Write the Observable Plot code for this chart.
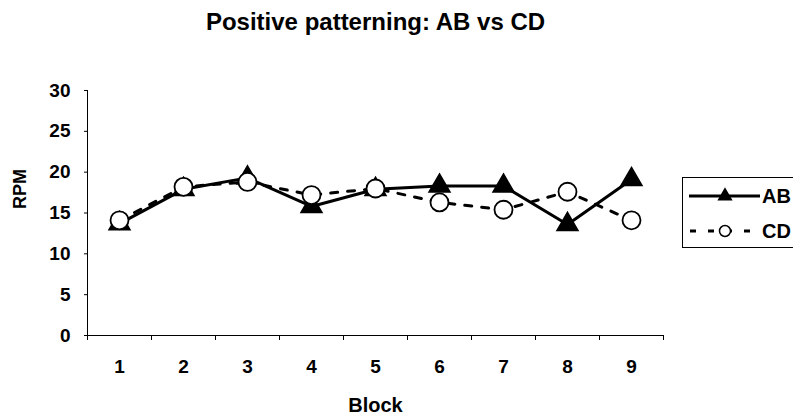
<!DOCTYPE html>
<html><head><meta charset="utf-8">
<script src="https://cdn.jsdelivr.net/npm/d3@7"></script>
<script src="https://cdn.jsdelivr.net/npm/@observablehq/plot@0.6"></script>
<style>
body{margin:0;background:#fff;font-family:Arial,"Liberation Sans",sans-serif;}
#wrap{position:relative;width:793px;height:418px;overflow:hidden;}
#legend{position:absolute;left:682px;top:177px;}
</style></head><body>
<div id="wrap"><div id="chart"></div>
<svg id="legend" width="120" height="71"></svg>
</div>
<script>
const blocks = [1,2,3,4,5,6,7,8,9];
const abValues = [13.7, 17.9, 19.3, 15.8, 17.9, 18.3, 18.3, 13.6, 19.1];
const cdValues = [14.1, 18.2, 18.8, 17.2, 18.0, 16.3, 15.4, 17.6, 14.1];
const seriesNames = ["AB", "CD"];
const yTicks = [0,5,10,15,20,25,30];
const title = "Positive patterning: AB vs CD";
const xLabel = "Block";
const yLabel = "RPM";

const ab = blocks.map((b,i)=>({block:b, value:abValues[i]}));
const cd = blocks.map((b,i)=>({block:b, value:cdValues[i]}));
const boundaries = d3.range(0.5, blocks.length + 0.51, 1);

const font = "Arial, 'Liberation Sans', sans-serif";
const plot = Plot.plot({
  width: 793, height: 418,
  marginTop: 90, marginBottom: 83, marginLeft: 87, marginRight: 130,
  style: {fontFamily: font, color: "#000", background: "#fff"},
  x: {type: "linear", domain: [0.5, 9.5]},
  y: {domain: [0, 30]},
  marks: [
    Plot.axisY({ticks: yTicks, tickSize: 3, tickPadding: 14, fontSize: 19, fontWeight: "bold", label: null}),
    Plot.axisX({ticks: blocks, tickSize: 0, tickPadding: 24, fontSize: 19, fontWeight: "bold", label: null, tickFormat: d => String(d)}),
    Plot.axisX({ticks: boundaries, tickSize: 5, tickFormat: () => "", label: null}),
    Plot.ruleX([0.5], {stroke: "#000", strokeWidth: 1}),
    Plot.ruleY([0], {stroke: "#000", strokeWidth: 1.2}),
    Plot.lineY(ab, {x: "block", y: "value", stroke: "#000", strokeWidth: 3}),
    Plot.dot(ab, {x: "block", y: "value", symbol: "triangle", r: 7.8, fill: "#000", stroke: "#000"}),
    Plot.lineY(cd, {x: "block", y: "value", stroke: "#000", strokeWidth: 3, strokeDasharray: "7,10"}),
    Plot.dot(cd, {x: "block", y: "value", symbol: "circle", r: 9, fill: "#fff", stroke: "#000", strokeWidth: 1.8}),
    Plot.text([title], {frameAnchor: "top", lineAnchor: "middle", dy: -68, fontSize: 24, fontWeight: "bold", text: d => d}),
    Plot.text([xLabel], {frameAnchor: "bottom", lineAnchor: "middle", dy: 70, fontSize: 20, fontWeight: "bold", text: d => d}),
    Plot.text([yLabel], {frameAnchor: "left", dx: -67, dy: -4, rotate: -90, fontSize: 18, fontWeight: "bold", text: d => d})
  ]
});
document.getElementById("chart").appendChild(plot);

// legend
const lg = d3.select("#legend");
lg.append("rect").attr("x",0.5).attr("y",0.5).attr("width",130).attr("height",70).attr("fill","#fff").attr("stroke","#000");
const rows = [{name: seriesNames[0], y: 19}, {name: seriesNames[1], y: 54}];
lg.append("line").attr("x1",7).attr("x2",78).attr("y1",rows[0].y).attr("y2",rows[0].y).attr("stroke","#000").attr("stroke-width",3);
lg.append("path").attr("d", d3.symbol(d3.symbolTriangle, 100)()).attr("transform",`translate(43,${rows[0].y})`).attr("fill","#000");
lg.append("line").attr("x1",8).attr("x2",78).attr("y1",rows[1].y).attr("y2",rows[1].y).attr("stroke","#000").attr("stroke-width",3).attr("stroke-dasharray","6,12");
lg.append("circle").attr("cx",43).attr("cy",rows[1].y).attr("r",5.5).attr("fill","#fff").attr("stroke","#000").attr("stroke-width",1.5);
rows.forEach(r => lg.append("text").attr("x",80).attr("y",r.y).attr("dy","0.35em").attr("font-size",20).attr("font-weight","bold").attr("font-family",font).text(r.name));
</script>
</body></html>
